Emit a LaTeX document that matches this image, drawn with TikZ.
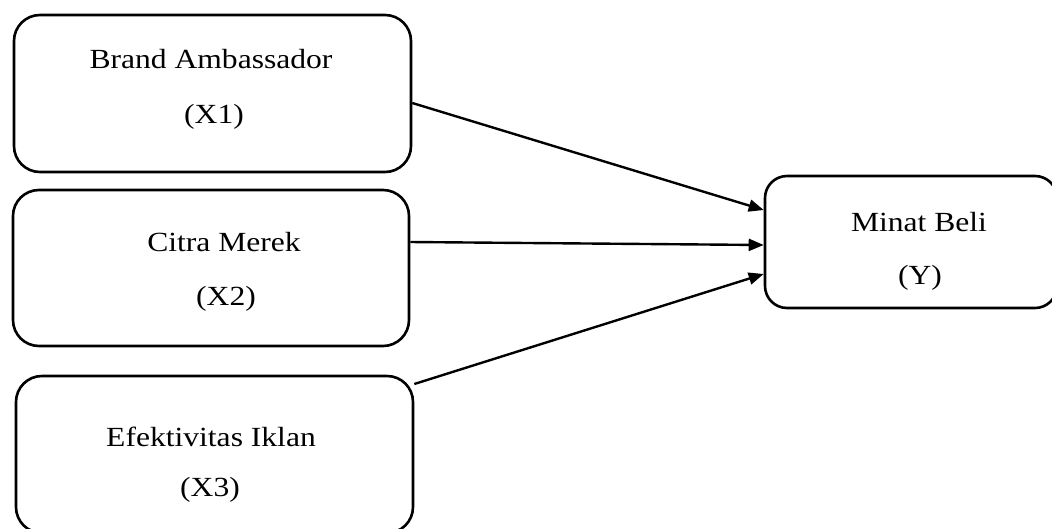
\documentclass[tikz,border=0pt]{standalone}
\usepackage{fontspec}
\setmainfont{Liberation Serif}[FakeStretch=1.14]
\usetikzlibrary{arrows.meta}
\begin{document}
\begin{tikzpicture}[x=1pt,y=-1pt,
  varbox/.style={draw=black, line width=2.6pt, rounded corners=26pt, inner sep=0pt, fill=white},
  lbl/.style={anchor=base, inner sep=0pt, font=\fontsize{27.7}{33}\selectfont},
  link/.style={draw=black, line width=2.4pt, -{Triangle[length=15pt,width=12pt]}}]
\useasboundingbox (0,0) rectangle (1052,528);
\begin{scope}
\clip (0,0) rectangle (1052,528);
\node[varbox, minimum width=397pt, minimum height=157pt] (b1) at (212.5,93.5) {};
\node[varbox, minimum width=396pt, minimum height=156pt] (b2) at (211,268) {};
\node[varbox, minimum width=397pt, minimum height=157pt] (b3) at (214.5,454.5) {};
\node[varbox, rounded corners=22pt, minimum width=292pt, minimum height=132pt] (by) at (911,242) {};
\end{scope}
\node[lbl] (t1a) at (211,68) {Brand Ambassador};
\node[lbl] (t1b) at (214,123) {(X1)};
\node[lbl] (t2a) at (224,251) {Citra Merek};
\node[lbl] (t2b) at (226,305) {(X2)};
\node[lbl] (t3a) at (211,446) {Efektivitas Iklan};
\node[lbl] (t3b) at (210,496) {(X3)};
\node[lbl] (tya) at (919,231) {Minat Beli};
\node[lbl] (tyb) at (920,284) {(Y)};
\draw[link] ([yshift=-9.5pt]b1.east) -- ([yshift=32pt]by.west);
\draw[link] ([yshift=26pt]b2.east) -- ([yshift=-3pt]by.west);
\draw[link] ([yshift=70.5pt]b3.east) -- ([yshift=-32pt]by.west);
\end{tikzpicture}
\end{document}
